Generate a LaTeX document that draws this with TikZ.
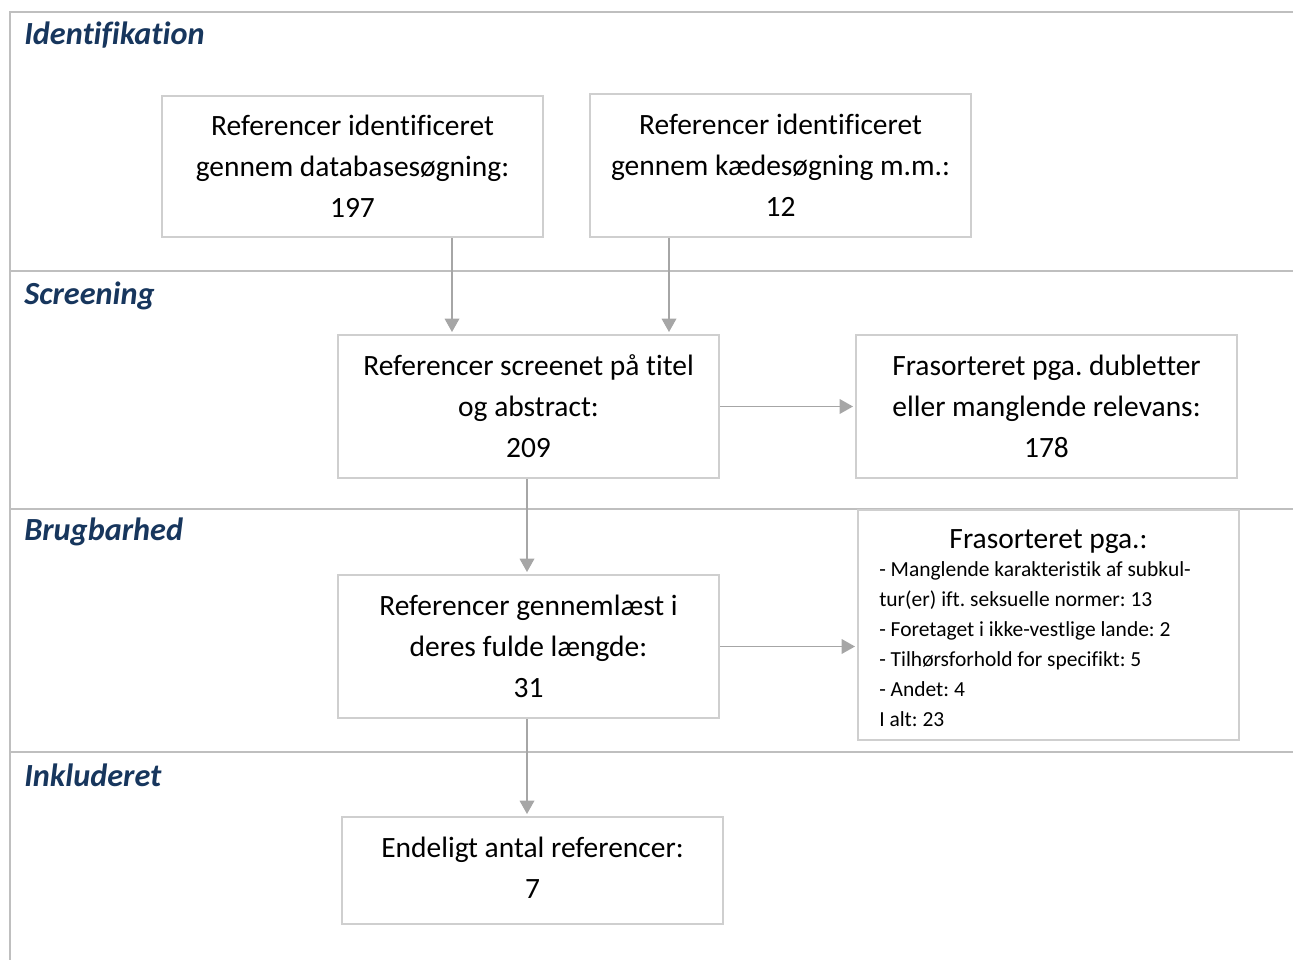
\documentclass[tikz,border=0pt]{standalone}
\usepackage{fontspec}
\setmainfont[Ligatures=NoCommon]{Carlito}
\frenchspacing
\usetikzlibrary{arrows.meta}
\definecolor{frame}{HTML}{BFBFBF}
\definecolor{boxline}{HTML}{CFCFCF}
\definecolor{arr}{HTML}{A6A6A6}
\definecolor{head}{HTML}{17365D}
\tikzset{
  px/.style={x=0.75pt,y=-0.75pt},
  framel/.style={draw=frame,line width=1.5pt},
  box/.style={draw=boxline,line width=1.5pt,rectangle,inner sep=0pt,align=center,
    font=\fontsize{22.1}{30.75}\selectfont},
  heading/.style={anchor=west,inner sep=0pt,text=head,font=\fontsize{24.2}{28}\selectfont\bfseries\itshape},
  conn/.style={draw=arr,line width=1pt,-{Triangle[width=11pt,length=10pt]},shorten >=1.5pt},
}
\begin{document}
\begin{tikzpicture}[px]
\useasboundingbox (0,0) rectangle (1293,960);
% frame
\draw[framel] (1293,12) -- (10,12) -- (10,960);
\draw[framel] (10,271) -- (1293,271);
\draw[framel] (10,509) -- (1293,509);
\draw[framel] (10,752) -- (1293,752);
% headings
\node[heading] (h1) at (24,35) {Identifikation};
\node[heading] (h2) at (24,296) {Screening};
\node[heading] (h3) at (24,532) {Brugbarhed};
\node[heading] (h4) at (24,775) {Inkluderet};
% boxes
\node[box,minimum width=381*0.75pt,minimum height=141*0.75pt] (a) at (352.5,166.5)
  {Referencer identificeret\\gennem databasesøgning:\\197};
\node[box,minimum width=381*0.75pt,minimum height=143*0.75pt] (b) at (780.5,165.5)
  {Referencer identificeret\\gennem kædesøgning m.m.:\\12};
\node[box,minimum width=381*0.75pt,minimum height=143*0.75pt] (c) at (528.5,406.5)
  {Referencer screenet på titel\\og abstract:\\209};
\node[box,minimum width=381*0.75pt,minimum height=143*0.75pt] (d) at (1046.5,406.5)
  {Frasorteret pga. dubletter\\eller manglende relevans:\\178};
\node[box,minimum width=381*0.75pt,minimum height=143*0.75pt] (e) at (528.5,646.5)
  {Referencer gennemlæst i\\deres fulde længde:\\31};
\node[box,minimum width=381*0.75pt,minimum height=230*0.75pt] (f) at (1048.5,625) {};
\node[inner sep=0pt,font=\fontsize{22.1}{26}\selectfont] (ft) at (1048.5,542) {Frasorteret pga.:};
\node[inner sep=0pt,anchor=north west,align=left,font=\fontsize{16.1}{22.5}\selectfont] (fl) at (879,561)
  {- Manglende karakteristik af subkul-\\tur(er) ift. seksuelle normer: 13\\- Foretaget i ikke-vestlige lande: 2\\- Tilhørsforhold for specifikt: 5\\- Andet: 4\\I alt: 23};
\node[box,minimum width=381*0.75pt,minimum height=107*0.75pt] (g) at (532.5,870.5)
  {};
\node[inner sep=0pt,align=center,font=\fontsize{22.1}{30.75}\selectfont] (gt) at (532.5,867.5)
  {Endeligt antal referencer:\\7};
% connectors
\draw[conn] (a.south -| 452,0) -- (c.north -| 452,0);
\draw[conn] (b.south -| 669,0) -- (c.north -| 669,0);
\draw[conn] (c.east) -- (d.west);
\draw[conn] (c.south -| 527,0) -- (e.north -| 527,0);
\draw[conn] (e.east) -- (f.west |- e.east);
\draw[conn] (e.south -| 527,0) -- (g.north -| 527,0);
\end{tikzpicture}
\end{document}
